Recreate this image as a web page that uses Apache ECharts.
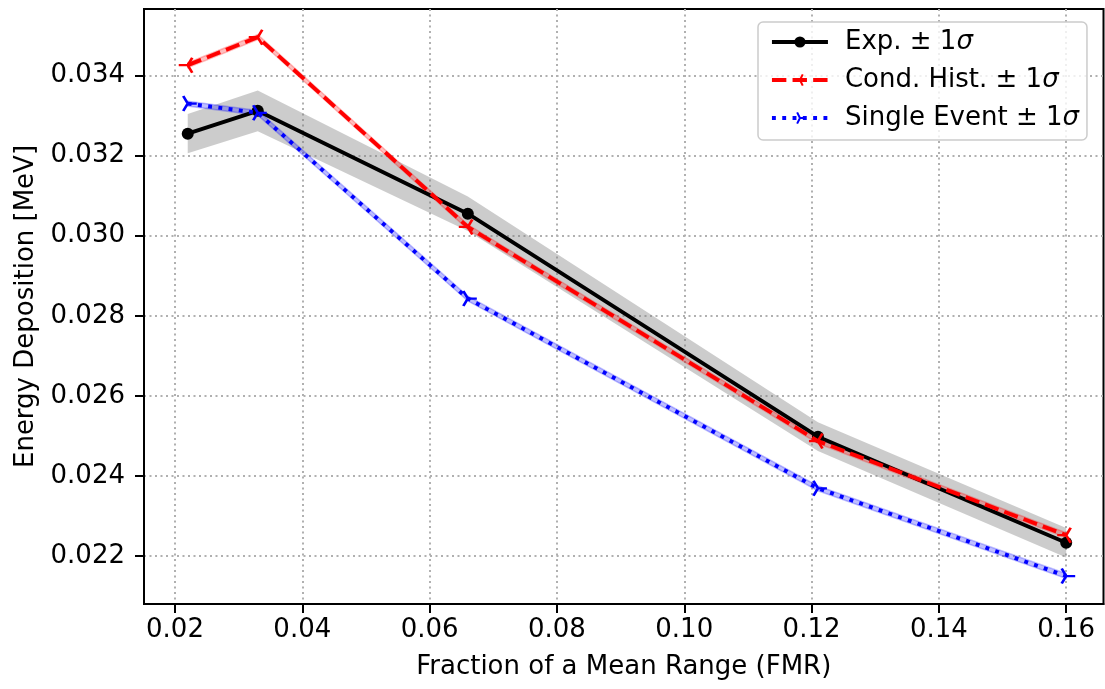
<!DOCTYPE html>
<html>
<head>
<meta charset="utf-8">
<script src="https://cdn.jsdelivr.net/npm/echarts@6/dist/echarts.min.js"></script>
<style>html,body{margin:0;padding:0;background:#fff}#c{width:1105px;height:689px}</style>
</head>
<body>
<div id="c"></div>
<script>
const xs = [0.022, 0.033, 0.066, 0.121, 0.16];
const expVals = [0.03255, 0.03312, 0.03055, 0.02498, 0.02233];
const expSigma = [0.00049, 0.00051, 0.00043, 0.00036, 0.00037];
const condVals = [0.03426, 0.03496, 0.03022, 0.02487, 0.02252];
const condSigma = [0.00006, 0.00006, 0.00006, 0.00006, 0.00006];
const singleVals = [0.0333, 0.03307, 0.02843, 0.02369, 0.0215];
const singleSigma = [0.00006, 0.00006, 0.00006, 0.00006, 0.00006];
const xTicks = [0.02, 0.04, 0.06, 0.08, 0.10, 0.12, 0.14, 0.16];
const yTicks = [0.022, 0.024, 0.026, 0.028, 0.030, 0.032, 0.034];
const seriesNames = ['Exp. ± 1σ', 'Cond. Hist. ± 1σ', 'Single Event ± 1σ'];

const FONT = 'DejaVu Sans';
const FS = 26;

function pairs(vals) { return xs.map((x, i) => [x, vals[i]]); }

function bandSeries(vals, sig, color, strokeW) {
  return {
    type: 'custom',
    silent: true,
    z: 1,
    data: [[0]],
    renderItem: function (params, api) {
      const up = xs.map((x, i) => api.coord([x, vals[i] + sig[i]]));
      const lo = xs.map((x, i) => api.coord([x, vals[i] - sig[i]])).reverse();
      return {
        type: 'polygon',
        shape: { points: up.concat(lo) },
        style: { fill: color, stroke: color, lineWidth: strokeW }
      };
    }
  };
}

const triLeft = 'path://M0,0L-1,0M0,0L0.5,0.866M0,0L0.5,-0.866M1,0L1,0';
const triRight = 'path://M0,0L1,0M0,0L-0.5,0.866M0,0L-0.5,-0.866M-1,0L-1,0';

const chart = echarts.init(document.getElementById('c'), null, { renderer: 'canvas' });
chart.setOption({
  animation: false,
  backgroundColor: '#fff',
  textStyle: { fontFamily: FONT },
  grid: { left: 144, right: 1.5, top: 9, bottom: 85, show: true, borderColor: '#000', borderWidth: 2, backgroundColor: 'transparent' },
  xAxis: {
    type: 'value', min: 0.01513, max: 0.16586,
    name: 'Fraction of a Mean Range (FMR)', nameLocation: 'middle', nameGap: 50,
    nameTextStyle: { fontFamily: FONT, fontSize: FS, color: '#000' },
    axisLine: { show: true, lineStyle: { color: '#000', width: 2 } },
    axisTick: { show: true, customValues: xTicks, length: 9, lineStyle: { color: '#000', width: 2 } },
    axisLabel: { customValues: xTicks, fontFamily: FONT, fontSize: FS, color: '#000', margin: 13,
      formatter: v => v.toFixed(2) },
    splitLine: { show: true, lineStyle: { color: '#b0b0b0', width: 2, type: [2, 3.5] } }
  },
  yAxis: {
    type: 'value', min: 0.0208015, max: 0.035663,
    name: 'Energy Deposition [MeV]', nameLocation: 'middle', nameGap: 102,
    nameTextStyle: { fontFamily: FONT, fontSize: FS, color: '#000' },
    axisLine: { show: true, lineStyle: { color: '#000', width: 2 } },
    axisTick: { show: true, customValues: yTicks, length: 9, lineStyle: { color: '#000', width: 2 } },
    axisLabel: { customValues: yTicks, fontFamily: FONT, fontSize: FS, color: '#000', margin: 19,
      formatter: v => v.toFixed(3) },
    splitLine: { show: true, lineStyle: { color: '#b0b0b0', width: 2, type: [2, 3.5] } }
  },
  legend: {
    show: true, orient: 'vertical', left: 758, top: 22,
    data: seriesNames,
    backgroundColor: 'rgba(255,255,255,0.8)', borderColor: '#cccccc', borderWidth: 1.5, borderRadius: 5,
    padding: [7, 8, 9, 12],
    itemWidth: 56, itemHeight: 14, itemGap: 12,
    lineStyle: { width: 3.9 },
    formatter: function (name) {
      return '{n|' + name.replace('σ', '') + '}{i|σ}';
    },
    textStyle: {
      fontFamily: FONT, fontSize: FS, color: '#000', padding: [0, 0, 0, 12],
      rich: {
        n: { fontFamily: FONT, fontSize: FS, color: '#000', lineHeight: 30 },
        i: { fontFamily: FONT, fontSize: FS, color: '#000', fontStyle: 'italic', lineHeight: 30 }
      }
    }
  },
  series: [
    bandSeries(expVals, expSigma, 'rgba(128,128,128,0.4)', 0),
    bandSeries(condVals, condSigma, 'rgba(255,0,0,0.25)', 1.5),
    bandSeries(singleVals, singleSigma, 'rgba(0,0,255,0.25)', 1.5),
    {
      name: seriesNames[0], type: 'line', z: 3, data: pairs(expVals),
      symbol: 'circle', symbolSize: 12, showAllSymbol: true,
      lineStyle: { color: '#000', width: 3.9 },
      itemStyle: { color: '#000' }
    },
    {
      name: seriesNames[1], type: 'line', z: 4, data: pairs(condVals),
      symbol: triLeft, symbolSize: [18, 15], showAllSymbol: true,
      lineStyle: { color: '#ff0000', width: 3.9, type: [14.4, 6.2] },
      itemStyle: { color: 'transparent', borderColor: '#ff0000', borderWidth: 2.5 }
    },
    {
      name: seriesNames[2], type: 'line', z: 5, data: pairs(singleVals),
      symbol: triRight, symbolSize: [18, 15], showAllSymbol: true,
      lineStyle: { color: '#0000ff', width: 3.9, type: [3.9, 6.4] },
      itemStyle: { color: 'transparent', borderColor: '#0000ff', borderWidth: 2.5 }
    }
  ]
});
</script>
</body>
</html>
